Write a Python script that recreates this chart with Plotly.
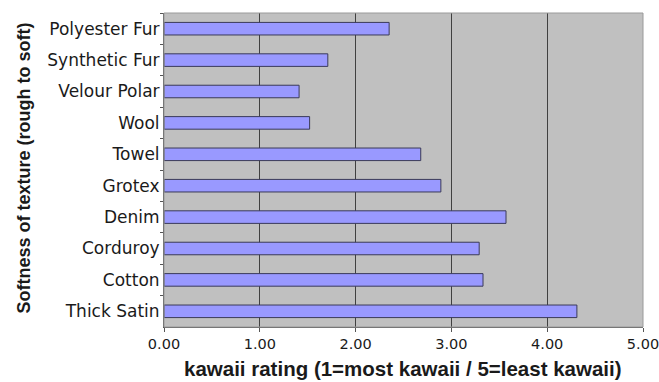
import plotly.graph_objects as go

fabrics = ["Polyester Fur", "Synthetic Fur", "Velour Polar", "Wool", "Towel",
           "Grotex", "Denim", "Corduroy", "Cotton", "Thick Satin"]
ratings = [2.35, 1.71, 1.41, 1.52, 2.68, 2.89, 3.57, 3.29, 3.33, 4.31]
x_ticks = [0, 1, 2, 3, 4, 5]
x_tick_labels = ["0.00", "1.00", "2.00", "3.00", "4.00", "5.00"]
x_title = "<b>kawaii rating (1=most kawaii / 5=least kawaii)</b>"
y_title = "<b>Softness of texture (rough to soft)</b>"

fig = go.Figure(go.Bar(
    x=ratings, y=fabrics, orientation="h", width=0.4,
    marker=dict(color="#9999FF", line=dict(color="#3a3a58", width=1)),
))

fig.update_layout(
    width=659, height=382,
    margin=dict(l=164, r=16, t=13, b=55, autoexpand=False),
    paper_bgcolor="white", plot_bgcolor="#C0C0C0",
    font=dict(family="DejaVu Sans, sans-serif", size=15, color="#1a1a1a"),
    showlegend=False,
    shapes=[dict(type="rect", xref="paper", yref="paper", x0=0, x1=1, y0=0, y1=1,
                 line=dict(color="#9a9a9a", width=1), layer="above")],
    annotations=[
        dict(text=x_title, xref="paper", yref="paper", x=0.498, y=-0.132,
             xanchor="center", yanchor="middle", showarrow=False,
             font=dict(family="Liberation Sans, Arial, sans-serif", size=20.5, color="#1a1a1a")),
        dict(text=y_title, xref="paper", yref="paper", x=-0.292, y=0.505,
             xanchor="center", yanchor="middle", showarrow=False, textangle=-90,
             font=dict(family="Liberation Sans, Arial, sans-serif", size=18, color="#1a1a1a")),
    ],
)
fig.update_xaxes(
    range=[0, 5], tickvals=x_ticks, ticktext=x_tick_labels, automargin=False,
    ticklabeloverflow="allow",
    showgrid=True, gridcolor="#404040", gridwidth=1,
    zeroline=False, showline=True, linecolor="#555555", mirror=False,
    ticks="outside", ticklen=4, tickcolor="#555555",
    tickfont=dict(family="DejaVu Sans, sans-serif", size=14.5),
)
fig.update_yaxes(
    autorange="reversed", categoryorder="array", categoryarray=fabrics, automargin=False,
    showgrid=False, showline=True, linecolor="#555555",
    ticks="outside", ticklen=3, tickcolor="#555555", tickson="boundaries",
    tickfont=dict(family="DejaVu Sans, sans-serif", size=17),
)
fig.write_html("out.html")
